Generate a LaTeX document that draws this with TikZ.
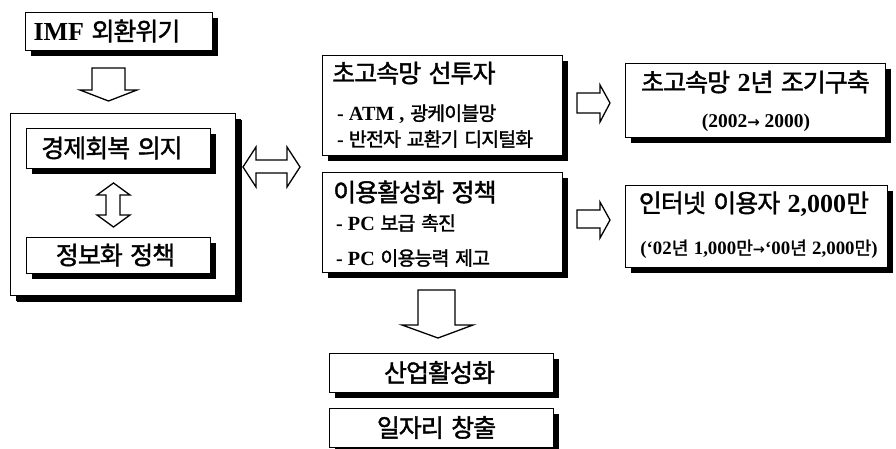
\documentclass[tikz,border=0pt]{standalone}
\usepackage{fontspec}
\setmainfont{Liberation Serif}
\newfontfamily\krfont[Scale=1.25,LetterSpace=-4,WordSpace=1.6,FakeBold=1.5]{Noto Sans CJK KR}
\newfontfamily\ltfont[Scale=1.3]{Liberation Serif}
\newfontfamily\symfont{DejaVu Sans}
\newcommand\KR[1]{{\krfont #1}}
\newcommand\LT[1]{{\ltfont\bfseries #1}}
\newcommand\AR{{\symfont\bfseries →}}
\usetikzlibrary{shadows}
\tikzset{
  box/.style={draw, line width=1pt, fill=white, inner sep=0pt,
    drop shadow={shadow xshift=6pt, shadow yshift=-6pt, opacity=1, fill=black}},
  bigbox/.style={box, drop shadow={shadow xshift=7pt, shadow yshift=-7pt, opacity=1, fill=black}},
  txt/.style={inner sep=0pt, font=\fontsize{20}{24}\selectfont},
  sub/.style={inner sep=0pt, anchor=west, font=\fontsize{15.5}{18}\selectfont},
  small/.style={inner sep=0pt, font=\fontsize{15.5}{18}\selectfont},
  blk/.style={draw, line width=1.3pt, fill=white, line join=miter}
}
\begin{document}
\begin{tikzpicture}[x=1pt,y=-1pt]
\useasboundingbox (0,0) rectangle (896,448);
% boxes
\node[box, minimum width=187pt, minimum height=38pt] (imf) at (118.5,31) {};
\node[txt] (imft) at (107,31) {\LT{IMF}\KR{ 외환위기}};
\node[bigbox, minimum width=225pt, minimum height=182pt] (big) at (122.5,204) {};
\node[box, minimum width=184pt, minimum height=40pt] (ek) at (118,148) {};
\node[txt] (ekt) at (112,148) {\KR{경제회복 의지}};
\node[box, minimum width=184pt, minimum height=36pt] (info) at (118,255) {};
\node[txt] (infot) at (115.5,255) {\KR{정보화 정책}};

\node[box, minimum width=240pt, minimum height=100pt] (mid1) at (442,105) {};
\node[txt, anchor=west] (m1t) at (332,73) {\KR{초고속망 선투자}};
\node[sub] (m1a) at (337,114) {\LT{- ATM ,}\KR{ 광케이블망}};
\node[sub] (m1b) at (337,139) {\LT{- }\KR{반전자 교환기 디지털화}};

\node[box, minimum width=240pt, minimum height=100pt] (mid2) at (442,222) {};
\node[txt, anchor=west] (m2t) at (333,192) {\KR{이용활성화 정책}};
\node[sub] (m2a) at (336,223) {\LT{- PC}\KR{ 보급 촉진}};
\node[sub] (m2b) at (336,258) {\LT{- PC}\KR{ 이용능력 제고}};

\node[box, minimum width=224pt, minimum height=39pt] (ind) at (441,372.5) {};
\node[txt] (indt) at (439.5,372.5) {\KR{산업활성화}};
\node[box, minimum width=224pt, minimum height=39pt] (job) at (441,427.5) {};
\node[txt] (jobt) at (436.5,427.5) {\KR{일자리 창출}};

\node[box, minimum width=260pt, minimum height=74pt] (r1) at (755,100) {};
\node[txt] (r1t) at (755.5,82) {\KR{초고속망 }\LT{2}\KR{년 조기구축}};
\node[small, font=\fontsize{15}{18}\selectfont] (r1s) at (756,123) {\LT{(2002}\AR\LT{ 2000)}};
\node[box, minimum width=262pt, minimum height=82pt] (r2) at (756,226) {};
\node[txt] (r2t) at (754,204) {\KR{인터넷 이용자 }\LT{2,000}\KR{만}};
\node[small, font=\fontsize{14.5}{18}\selectfont] (r2s) at (759,249) {\LT{(‘02}\KR{년 }\LT{1,000}\KR{만}\AR\LT{‘00}\KR{년 }\LT{2,000}\KR{만}\LT{)}};

% block arrows
\draw[blk] (92,68) -- (125,68) -- (125,90) -- (137,90) -- (108.5,101) -- (80,90) -- (92,90) -- cycle;
\draw[blk] (113.5,183) -- (130,195) -- (120,195) -- (120,215) -- (130,215) -- (113.5,227)
  -- (97,215) -- (106,215) -- (106,195) -- (97,195) -- cycle;
\draw[blk] (243,167) -- (256,147) -- (256,160) -- (287,160) -- (287,147) -- (300,167)
  -- (287,187) -- (287,173) -- (256,173) -- (256,187) -- cycle;
\draw[blk] (577,93) -- (600,93) -- (600,85) -- (610,103) -- (600,122) -- (600,113) -- (577,113) -- cycle;
\draw[blk] (577,210) -- (600,210) -- (600,202) -- (610,220) -- (600,238) -- (600,228) -- (577,228) -- cycle;
\draw[blk] (418,290) -- (455,290) -- (455,325) -- (473,325) -- (438,338) -- (402,325) -- (418,325) -- cycle;
\end{tikzpicture}
\end{document}
